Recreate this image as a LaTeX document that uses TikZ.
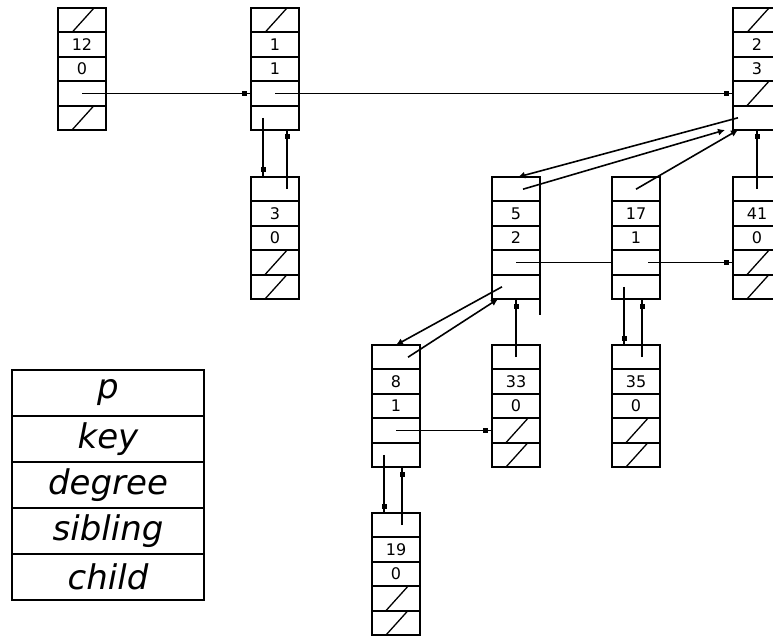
\documentclass[tikz,border=0pt]{standalone}
\usepackage{fontspec}
\setmainfont{DejaVu Sans}
\usetikzlibrary{positioning,arrows.meta,decorations.markings}

% one heap node: name, x, y, key, degree
\newcommand{\heapnode}[5]{%
  \node[cell, anchor=north west] (#1-p) at (#2,#3) {};
  \node[cell, below=0pt of #1-p] (#1-k) {#4};
  \node[cell, below=0pt of #1-k] (#1-d) {#5};
  \node[cell, below=0pt of #1-d] (#1-s) {};
  \node[cell, below=0pt of #1-s] (#1-c) {};
}
% NIL field
\newcommand{\nilslash}[1]{\draw[nilline] ([xshift=-10pt]#1.south) -- ([xshift=12pt]#1.north);}

\begin{document}
\begin{tikzpicture}[x=1pt,y=-1pt]
% Define common styles
\tikzset{
    cell/.style={draw, line width=2pt, minimum width=48pt, minimum height=24.4pt,
        inner sep=0pt, outer sep=0pt, font=\fontsize{16}{19}\selectfont},
    field/.style={draw, line width=2pt, minimum width=192pt, minimum height=46pt,
        inner sep=0pt, outer sep=0pt, font=\fontsize{34}{40}\selectfont\itshape},
    nilline/.style={line width=1.3pt},
    link/.style={line width=1.6pt},
    ptr/.style={link, postaction={decorate}, decoration={markings,
        mark=at position -7pt with {\fill (-2.5pt,-2.5pt) rectangle (2.5pt,2.5pt);}}},
    slant/.style={link, -{Latex[length=7pt,width=7pt]}}
}
\clip (0,0) rectangle (773,636);

% Root list
\heapnode{n12}{58}{8}{12}{0}
\heapnode{n1}{251}{8}{1}{1}
\heapnode{n2}{733}{8}{2}{3}
\nilslash{n12-p} \nilslash{n12-c}
\nilslash{n1-p}
\nilslash{n2-p} \nilslash{n2-s}

% Children
\heapnode{n3}{251}{177}{3}{0}
\nilslash{n3-s} \nilslash{n3-c}
\heapnode{n5}{492}{177}{5}{2}
\heapnode{n17}{612}{177}{17}{1}
\heapnode{n41}{733}{177}{41}{0}
\nilslash{n41-s} \nilslash{n41-c}
\heapnode{n8}{372}{345}{8}{1}
\heapnode{n33}{492}{345}{33}{0}
\nilslash{n33-s} \nilslash{n33-c}
\heapnode{n35}{612}{345}{35}{0}
\nilslash{n35-s} \nilslash{n35-c}
\heapnode{n19}{372}{513}{19}{0}
\nilslash{n19-s} \nilslash{n19-c}

\draw[line width=2pt] (n5-c.south east) -- ++(0,16);

% sibling pointers
\draw[ptr] (n12-s.center) -- (n1-s.west);
\draw[ptr] (n1-s.center) -- (n2-s.west);
\draw[link] (n5-s.center) -- (n17-s.west);
\draw[ptr] ([xshift=12pt]n17-s.center) -- (n41-s.west);
\draw[ptr] (n8-s.center) -- (n33-s.west);

% child pointers
\draw[ptr] ([xshift=-12pt]n1-c.center) -- ([xshift=-12pt]n3-p.north);
\draw[slant] ([xshift=-19pt]n2-c.center) -- ([xshift=2pt]n5-p.north);
\draw[slant] ([xshift=-14pt]n5-c.center) -- (n8-p.north);
\draw[ptr] ([xshift=-12pt]n17-c.center) -- ([xshift=-12pt]n35-p.north);
\draw[ptr] ([xshift=-12pt]n8-c.center) -- ([xshift=-12pt]n19-p.north);

% parent pointers
\draw[ptr] ([xshift=12pt]n3-p.center) -- ([xshift=12pt]n1-c.south);
\draw[slant] ([xshift=7pt]n5-p.center) -- ([xshift=-32pt]n2-c.south);
\draw[slant] (n17-p.center) -- ([xshift=-19pt]n2-c.south);
\draw[ptr] (n41-p.center) -- (n2-c.south);
\draw[slant] ([xshift=12pt]n8-p.center) -- ([xshift=-18pt]n5-c.south);
\draw[ptr] (n33-p.center) -- (n5-c.south);
\draw[ptr] ([xshift=6pt]n35-p.center) -- ([xshift=6pt]n17-c.south);
\draw[ptr] ([xshift=6pt]n19-p.center) -- ([xshift=6pt]n8-c.south);

% Field legend
\node[field, anchor=north west] (f-p) at (12,370) {p};
\node[field, below=0pt of f-p] (f-key) {key};
\node[field, below=0pt of f-key] (f-deg) {degree};
\node[field, below=0pt of f-deg] (f-sib) {sibling};
\node[field, below=0pt of f-sib] (f-child) {child};
\end{tikzpicture}
\end{document}
